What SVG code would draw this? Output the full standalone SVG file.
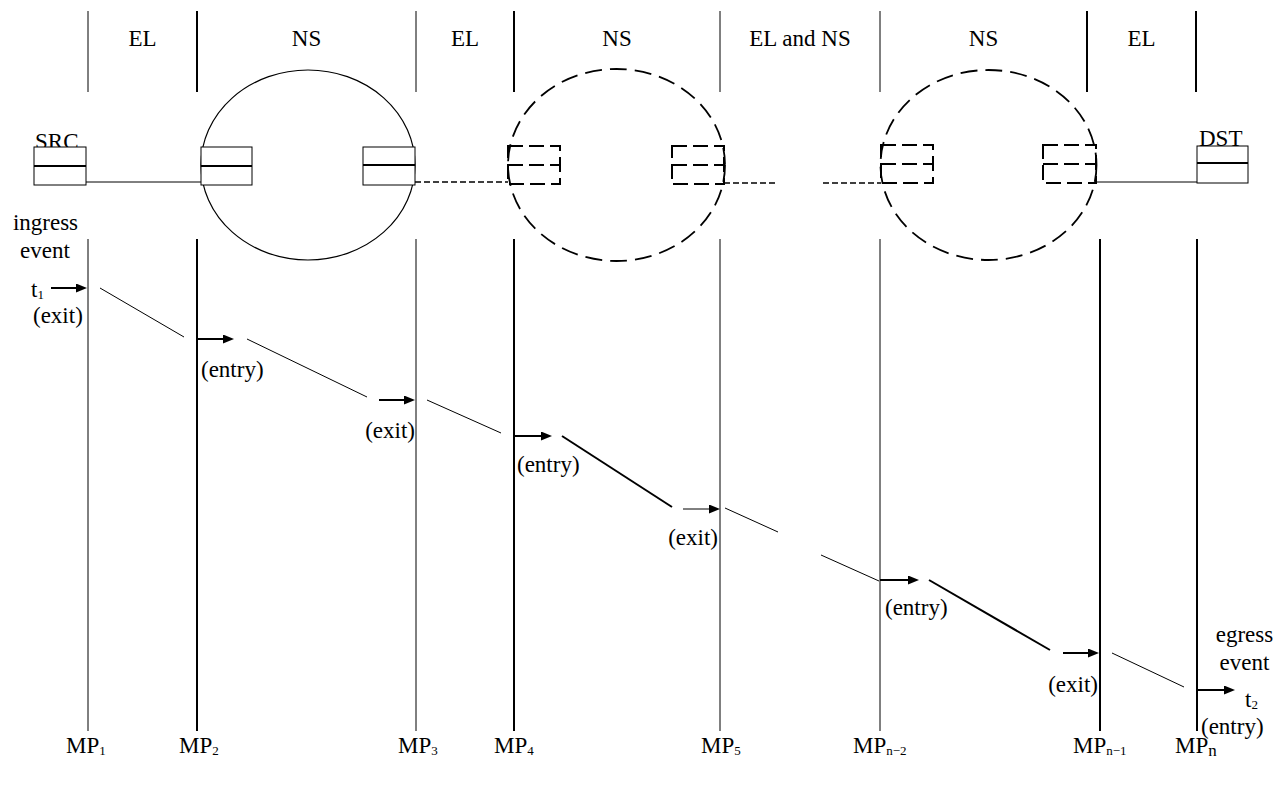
<svg xmlns="http://www.w3.org/2000/svg" width="1282" height="789" viewBox="0 0 1282 789" font-family="Liberation Serif, Times New Roman, serif">
  <style>
    text { font-family: 'Liberation Serif', 'Times New Roman', serif; font-size: 23px; fill: #000; }
    .mid { text-anchor: middle; }
    .end { text-anchor: end; }
    .sub { font-size: 13px; }
    .thin { stroke: #000; stroke-width: 1; fill: none; }
    .thick { stroke: #000; stroke-width: 2; fill: none; }
    .box { stroke: #000; stroke-width: 1; fill: #fff; }
    .boxmid { stroke: #000; stroke-width: 2.2; }
    .dbox { stroke: #000; stroke-width: 2; fill: none; stroke-dasharray: 15 6; }
    .dring { stroke: #000; stroke-width: 1.8; fill: none; stroke-dasharray: 17 8; }
    .ring { stroke: #000; stroke-width: 1.2; fill: none; }
    .dlink { stroke: #000; stroke-width: 1.6; fill: none; stroke-dasharray: 6 3; }
    .path1 { stroke: #000; stroke-width: 1; }
    .path2 { stroke: #000; stroke-width: 2; }
  </style>
  <defs>
    <marker id="head" markerUnits="userSpaceOnUse" markerWidth="12" markerHeight="10" refX="6" refY="4.5" orient="auto">
      <path d="M0,0 L11,4.5 L0,9 z" fill="#000"/>
    </marker>
  </defs>
  <rect width="1282" height="789" fill="#fff"/>

  <!-- segment boundaries along the top band -->
  <g id="segment-dividers">
    <line class="thin" x1="88" y1="11" x2="88" y2="92"/>
    <line class="thick" x1="197" y1="11" x2="197" y2="92"/>
    <line class="thin" x1="416" y1="11" x2="416" y2="92"/>
    <line class="thick" x1="514" y1="11" x2="514" y2="92"/>
    <line class="thin" x1="720" y1="11" x2="720" y2="92"/>
    <line class="thin" x1="880" y1="11" x2="880" y2="92"/>
    <line class="thick" x1="1087" y1="11" x2="1087" y2="92"/>
    <line class="thick" x1="1196" y1="11" x2="1196" y2="92"/>
  </g>

  <g id="segment-labels">
    <text class="mid" x="142.5" y="46">EL</text>
    <text class="mid" x="306.5" y="46">NS</text>
    <text class="mid" x="465" y="46">EL</text>
    <text class="mid" x="617" y="46">NS</text>
    <text class="mid" x="800" y="46">EL and NS</text>
    <text class="mid" x="983.5" y="46">NS</text>
    <text class="mid" x="1141.5" y="46">EL</text>
  </g>

  <!-- links between interfaces -->
  <g id="connectors">
    <line class="thin" x1="86" y1="182" x2="201" y2="182"/>
    <line class="dlink" x1="415" y1="182" x2="508" y2="182"/>
    <line class="dlink" x1="724" y1="183" x2="778" y2="183"/>
    <line class="dlink" x1="823" y1="183" x2="881" y2="183"/>
    <line class="thin" x1="1096" y1="182" x2="1197" y2="182"/>
  </g>

  <!-- network sections -->
  <g id="ns-1">
    <ellipse class="ring" cx="308" cy="165" rx="107" ry="95"/>
    <g id="ns-1-in">
      <rect class="box" x="201" y="147" width="51" height="38"/>
      <line class="boxmid" x1="201" y1="166" x2="252" y2="166"/>
    </g>
    <g id="ns-1-out">
      <rect class="box" x="363" y="147" width="52" height="38"/>
      <line class="boxmid" x1="363" y1="165" x2="415" y2="165"/>
    </g>
  </g>

  <g id="ns-2">
    <ellipse class="dring" cx="616.5" cy="165" rx="108.5" ry="96"/>
    <g id="ns-2-in">
      <rect class="dbox" x="508" y="146" width="52" height="38"/>
      <line class="dbox" x1="508" y1="165" x2="560" y2="165"/>
    </g>
    <g id="ns-2-out">
      <rect class="dbox" x="672" y="146" width="52" height="38"/>
      <line class="dbox" x1="672" y1="165" x2="724" y2="165"/>
    </g>
  </g>

  <g id="ns-3">
    <ellipse class="dring" cx="988.5" cy="165" rx="108" ry="95"/>
    <g id="ns-3-in">
      <rect class="dbox" x="881" y="145" width="52" height="38"/>
      <line class="dbox" x1="881" y1="164" x2="933" y2="164"/>
    </g>
    <g id="ns-3-out">
      <rect class="dbox" x="1043" y="145" width="53" height="38"/>
      <line class="dbox" x1="1043" y1="164" x2="1096" y2="164"/>
    </g>
  </g>

  <!-- end hosts -->
  <g id="src">
    <text x="35" y="149">SRC</text>
    <rect class="box" x="34" y="147" width="52" height="38"/>
    <line class="boxmid" x1="34" y1="166" x2="86" y2="166"/>
  </g>
  <g id="dst">
    <text x="1199" y="146">DST</text>
    <rect class="box" x="1197" y="146" width="51" height="37"/>
    <line class="boxmid" x1="1197" y1="163" x2="1248" y2="163"/>
  </g>

  <!-- measurement point time lines -->
  <g id="mp-lines">
    <line class="thin" x1="88" y1="239" x2="88" y2="731"/>
    <line class="thick" x1="197" y1="239" x2="197" y2="731"/>
    <line class="thin" x1="416" y1="239" x2="416" y2="731"/>
    <line class="thick" x1="514" y1="239" x2="514" y2="731"/>
    <line class="thin" x1="720" y1="239" x2="720" y2="731"/>
    <line class="thin" x1="880" y1="239" x2="880" y2="731"/>
    <line class="thick" x1="1100" y1="239" x2="1100" y2="731"/>
    <line class="thick" x1="1197" y1="239" x2="1197" y2="731"/>
  </g>

  <!-- packet progress between measurement points -->
  <g id="packet-path">
    <line class="path1" x1="100" y1="288" x2="184" y2="337"/>
    <line class="path1" x1="247" y1="339" x2="367" y2="397"/>
    <line class="path1" x1="427" y1="400" x2="501" y2="433"/>
    <line class="path2" x1="562" y1="436" x2="672" y2="507"/>
    <line class="path1" x1="725" y1="508" x2="778" y2="532"/>
    <line class="path1" x1="821" y1="555" x2="879" y2="581"/>
    <line class="path2" x1="929" y1="580" x2="1050" y2="650"/>
    <line class="path1" x1="1112" y1="653" x2="1184" y2="687"/>
  </g>

  <!-- observation events -->
  <g id="events">
    <line class="thick" x1="51" y1="288" x2="82" y2="288" marker-end="url(#head)"/>
    <line class="thick" x1="197" y1="339" x2="229" y2="339" marker-end="url(#head)"/>
    <line class="thick" x1="379" y1="400" x2="410" y2="400" marker-end="url(#head)"/>
    <line class="thick" x1="514" y1="436" x2="547" y2="436" marker-end="url(#head)"/>
    <line class="thin" x1="683" y1="509" x2="715" y2="509" marker-end="url(#head)"/>
    <line class="thick" x1="880" y1="580" x2="914" y2="580" marker-end="url(#head)"/>
    <line class="thick" x1="1063" y1="653" x2="1094" y2="653" marker-end="url(#head)"/>
    <line class="thick" x1="1197" y1="690" x2="1230" y2="690" marker-end="url(#head)"/>
  </g>

  <g id="event-labels">
    <text class="mid" x="45.5" y="230">ingress</text>
    <text class="mid" x="45" y="258">event</text>
    <text x="31" y="297">t<tspan class="sub" dy="2">1</tspan></text>
    <text x="33" y="323">(exit)</text>
    <text x="201" y="377">(entry)</text>
    <text class="end" x="415" y="438">(exit)</text>
    <text x="517" y="472">(entry)</text>
    <text class="end" x="718" y="545">(exit)</text>
    <text x="885" y="615">(entry)</text>
    <text class="end" x="1098" y="692">(exit)</text>
    <text class="mid" x="1244.5" y="642">egress</text>
    <text class="mid" x="1244.5" y="670">event</text>
    <text x="1245" y="707">t<tspan class="sub" dy="2">2</tspan></text>
    <text x="1201" y="734">(entry)</text>
  </g>

  <g id="mp-labels">
    <text x="66" y="753">MP<tspan class="sub" dy="2">1</tspan></text>
    <text x="179" y="753">MP<tspan class="sub" dy="2">2</tspan></text>
    <text x="398" y="753">MP<tspan class="sub" dy="2">3</tspan></text>
    <text x="494" y="753">MP<tspan class="sub" dy="2">4</tspan></text>
    <text x="701" y="753">MP<tspan class="sub" dy="2">5</tspan></text>
    <text x="853" y="753">MP<tspan class="sub" dy="2">n−2</tspan></text>
    <text x="1073" y="753">MP<tspan class="sub" dy="2">n−1</tspan></text>
    <text x="1175" y="753">MP<tspan font-size="17" dy="3">n</tspan></text>
  </g>
</svg>
